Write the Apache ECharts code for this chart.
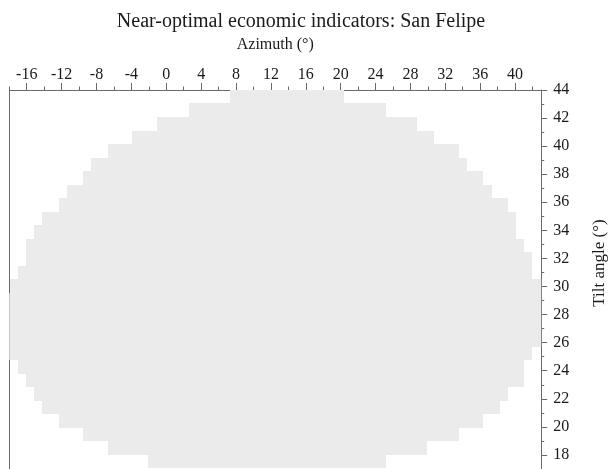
<!DOCTYPE html>
<html>
<head>
<meta charset="utf-8">
<script src="https://cdn.jsdelivr.net/npm/echarts@6/dist/echarts.min.js"></script>
<style>
html,body{margin:0;padding:0;background:#fff;}
#chart{width:614px;height:469px;}
</style>
</head>
<body>
<div id="chart"></div>
<script>
// Tick labels
var azimuthTicks = [-16, -12, -8, -4, 0, 4, 8, 12, 16, 20, 24, 28, 32, 36, 40];
var azimuthMinorTicks = [-18, -14, -10, -6, -2, 2, 6, 10, 14, 18, 22, 26, 30, 34, 38, 42];
var tiltTicks = [18, 20, 22, 24, 26, 28, 30, 32, 34, 36, 38, 40, 42, 44];
var tiltMinorTicks = [17, 19, 21, 23, 25, 27, 29, 31, 33, 35, 37, 39, 41, 43];

// Near-optimal region: row boundaries in tilt (deg), and azimuth extent (deg) of each row
var tiltEdges = [44.00, 43.04, 42.07, 41.11, 40.15, 39.19, 38.22, 37.26, 36.30, 35.34,
                 34.37, 33.41, 32.45, 31.49, 30.52, 29.56, 28.60, 27.64, 26.67, 25.71,
                 24.75, 23.79, 22.82, 21.86, 20.90, 19.94, 18.97, 18.01, 17.05];
var azimuthLeft = [7.31, 2.61, -1.09, -3.89, -6.71, -8.63, -9.58, -11.41, -12.30, -14.21,
                   -15.13, -16.08, -16.08, -17.03, -17.97, -18.9, -18.9, -18.9, -18.9, -18.9,
                   -17.03, -16.08, -15.13, -14.21, -12.30, -9.51, -6.71, -2.06];
var azimuthRight = [20.42, 25.17, 28.79, 30.71, 33.58, 34.46, 36.36, 37.33, 39.23, 40.11,
                    40.11, 41.06, 41.98, 41.98, 43.9, 43.9, 43.9, 43.9, 43.9, 41.98,
                    41.06, 41.06, 39.23, 38.28, 36.36, 33.58, 29.87, 25.20];

var titleText = 'Near-optimal economic indicators: San Felipe';
var xName = 'Azimuth (°)';
var yName = 'Tilt angle (°)';

var cells = [];
for (var i = 0; i < azimuthLeft.length; i++) {
  cells.push([azimuthLeft[i], azimuthRight[i], tiltEdges[i + 1], tiltEdges[i]]);
}

var FONT = '"Liberation Serif", "DejaVu Serif", serif';
var AXIS_COLOR = '#6a6a6a';
var TEXT_COLOR = '#1a1a1a';

var chart = echarts.init(document.getElementById('chart'), null, {renderer: 'canvas'});

function hiddenAxisBase() {
  return {axisLine: {show: false, onZero: false}, axisLabel: {show: false}, splitLine: {show: false}};
}

var option = {
  animation: false,
  backgroundColor: '#ffffff',
  title: {
    text: titleText,
    left: 296,
    top: 7,
    textAlign: 'center',
    textStyle: {fontFamily: FONT, fontSize: 20, fontWeight: 'normal', color: TEXT_COLOR}
  },
  graphic: [{
    type: 'text',
    x: 600,
    y: 263,
    rotation: Math.PI / 2,
    style: {
      text: yName,
      fontFamily: FONT,
      fontSize: 17,
      fill: TEXT_COLOR,
      align: 'center',
      verticalAlign: 'middle'
    }
  }],
  grid: {left: 9.3, right: 72.8, top: 90, bottom: -3.9, containLabel: false},
  xAxis: [{
    type: 'value',
    position: 'top',
    min: -18,
    max: 43,
    name: xName,
    nameLocation: 'middle',
    nameGap: 37,
    nameTextStyle: {fontFamily: FONT, fontSize: 16, color: TEXT_COLOR},
    axisLine: {show: true, onZero: false, lineStyle: {color: AXIS_COLOR, width: 1}},
    axisTick: {show: true, customValues: azimuthTicks, length: 7, inside: false, lineStyle: {color: AXIS_COLOR}},
    axisLabel: {show: true, customValues: azimuthTicks, margin: 7, fontFamily: FONT, fontSize: 16, color: TEXT_COLOR},
    splitLine: {show: false}
  }, Object.assign(hiddenAxisBase(), {
    type: 'value',
    position: 'top',
    min: -18,
    max: 43,
    axisTick: {show: true, customValues: azimuthMinorTicks, length: 3.5, inside: false, lineStyle: {color: AXIS_COLOR}}
  })],
  yAxis: [{
    type: 'value',
    position: 'right',
    min: 17,
    max: 44,
    axisLine: {show: true, onZero: false, lineStyle: {color: AXIS_COLOR, width: 1}},
    axisTick: {show: true, customValues: tiltTicks, length: 6, inside: false, lineStyle: {color: AXIS_COLOR}},
    axisLabel: {show: true, customValues: tiltTicks, margin: 12, fontFamily: FONT, fontSize: 16, color: TEXT_COLOR},
    splitLine: {show: false}
  }, Object.assign(hiddenAxisBase(), {
    type: 'value',
    position: 'right',
    min: 17,
    max: 44,
    axisTick: {show: true, customValues: tiltMinorTicks, length: 3, inside: false, lineStyle: {color: AXIS_COLOR}}
  }), {
    type: 'value',
    position: 'left',
    min: 17,
    max: 44,
    axisLine: {show: true, onZero: false, lineStyle: {color: AXIS_COLOR, width: 1}},
    axisTick: {show: false},
    axisLabel: {show: false},
    splitLine: {show: false}
  }],
  series: [{
    type: 'custom',
    xAxisIndex: 0,
    yAxisIndex: 0,
    data: cells,
    encode: {x: [0, 1], y: [2, 3]},
    z: 1,
    renderItem: function (params, api) {
      var p1 = api.coord([api.value(0), api.value(3)]);
      var p2 = api.coord([api.value(1), api.value(2)]);
      var x1 = Math.round(p1[0]), y1 = Math.round(p1[1]);
      var x2 = Math.round(p2[0]), y2 = Math.round(p2[1]);
      var rect = echarts.graphic.clipRectByRect(
        {x: x1, y: y1, width: x2 - x1, height: y2 - y1},
        {x: params.coordSys.x, y: params.coordSys.y, width: params.coordSys.width, height: params.coordSys.height}
      );
      if (!rect) return;
      return {
        type: 'rect',
        shape: rect,
        style: {fill: '#ebebeb', stroke: null}
      };
    }
  }]
};
chart.setOption(option);
</script>
</body>
</html>
